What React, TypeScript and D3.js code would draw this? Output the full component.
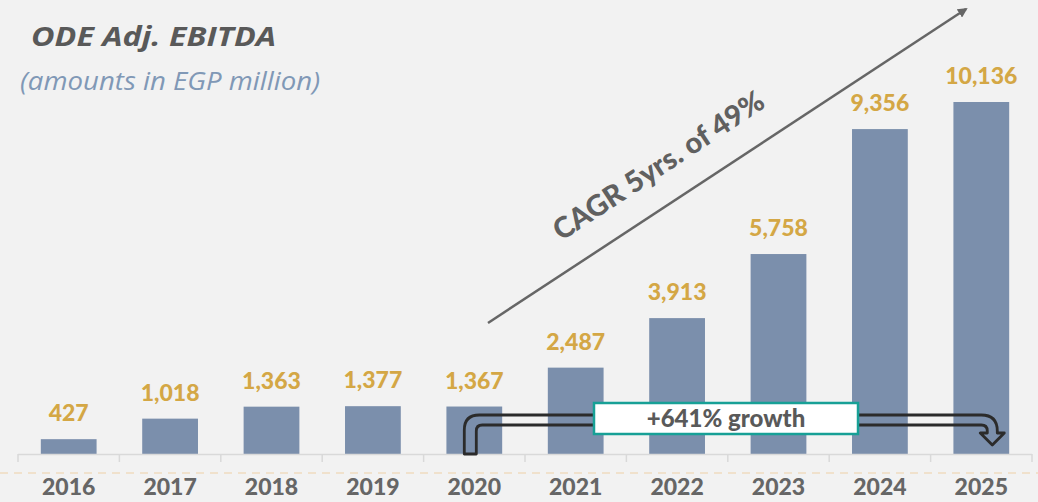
import React from 'react'
import { scaleBand, scaleLinear, format } from 'd3'

// chart values
const years = ['2016', '2017', '2018', '2019', '2020', '2021', '2022', '2023', '2024', '2025']
const ebitda = [427, 1018, 1363, 1377, 1367, 2487, 3913, 5758, 9356, 10136]

const W = 1038
const H = 502
const font = "Lato, 'Open Sans', sans-serif"
const titleFont = "'Open Sans', Lato, sans-serif"

const App = () => {
  const x = scaleBand<string>().domain(years).range([18, 1032]).paddingInner(0.45).paddingOuter(0.225)
  const y = scaleLinear().domain([0, 10136]).range([454, 102])
  const fmt = format(',')
  const bw = x.bandwidth()
  const step = x.step()
  const base = y(0)

  // bent "growth" arrow, anchored on the 2020 and 2025 bars
  const lx = (x('2020') as number) + bw / 2 - 4
  const rx = (x('2025') as number) + bw / 2 + 11
  const top = 415
  const th = 10
  const lo = lx - 6, li = lx + 6
  const ri = rx - 5, ro = rx + 5
  const headY = 433
  const bent = [
    `M${lo},${base}`,
    `L${lo},${top + 15}`,
    `Q${lo},${top} ${lo + 15},${top}`,
    `L${ro - 16},${top}`,
    `Q${ro},${top} ${ro},${top + 16}`,
    `L${ro},${headY}`,
    `L${rx + 12},${headY}`,
    `L${rx},${headY + 12}`,
    `L${rx - 12},${headY}`,
    `L${ri},${headY}`,
    `L${ri},${top + th + 6}`,
    `Q${ri},${top + th} ${ri - 6},${top + th}`,
    `L${li + 6},${top + th}`,
    `Q${li},${top + th} ${li},${top + th + 6}`,
    `L${li},${base}`,
    'Z',
  ].join(' ')

  // CAGR trend line
  const a0 = { x: 488, y: 323 }
  const a1 = { x: 966, y: 9 }
  const ang = (Math.atan2(a1.y - a0.y, a1.x - a0.x) * 180) / Math.PI

  const boxL = 594, boxR = 858, boxT = 403, boxB = 434

  return (
    <svg width={W} height={H} style={{ position: 'absolute', left: 0, top: 0, background: '#f2f2f2' }}>
      <rect x={0} y={0} width={W} height={H} fill="#f2f2f2" />
      <defs>
        <marker id="ah" viewBox="0 0 10 10" refX="8" refY="5" markerWidth="10" markerHeight="10" orient="auto" markerUnits="userSpaceOnUse">
          <path d="M0,0 L10,5 L0,10 Z" fill="#666666" />
        </marker>
      </defs>

      {/* titles */}
      <text x={31} y={46} textLength={245} lengthAdjust="spacingAndGlyphs" fontFamily={titleFont} fontSize={26} fontWeight="bold" fontStyle="italic" fill="#595959">
        ODE Adj. EBITDA
      </text>
      <text x={20} y={90} textLength={300} lengthAdjust="spacingAndGlyphs" fontFamily={titleFont} fontSize={25} fontStyle="italic" fill="#8098b6">
        (amounts in EGP million)
      </text>

      {/* bars */}
      {years.map((yr, i) => (
        <rect key={yr} x={x(yr)} y={y(ebitda[i])} width={bw} height={base - y(ebitda[i])} fill="#7b8fac" />
      ))}

      {/* value labels */}
      {years.map((yr, i) => (
        <text
          key={'v' + yr}
          x={(x(yr) as number) + bw / 2}
          y={y(ebitda[i]) - 18}
          textAnchor="middle"
          fontFamily={font}
          fontSize={23}
          fontWeight="900"
          fill="#d4a745"
        >
          {fmt(ebitda[i])}
        </text>
      ))}

      {/* axis */}
      <line x1={18} x2={1032} y1={base + 0.5} y2={base + 0.5} stroke="#d9d9d9" strokeWidth={1.5} />
      {[...years, 'end'].map((yr, i) => {
        const tx = 18 + i * step
        return <line key={'t' + yr} x1={tx} x2={tx} y1={base} y2={base + 8} stroke="#d9d9d9" strokeWidth={1.5} />
      })}
      <line x1={0} x2={W} y1={473} y2={473} stroke="#f0dcc0" strokeWidth={1.5} strokeDasharray="8 6" />
      {years.map((yr) => (
        <text
          key={'l' + yr}
          x={(x(yr) as number) + bw / 2}
          y={495}
          textAnchor="middle"
          fontFamily={font}
          fontSize={23}
          fontWeight="900"
          fill="#666666"
        >
          {yr}
        </text>
      ))}

      {/* CAGR annotation */}
      <line x1={a0.x} y1={a0.y} x2={a1.x} y2={a1.y} stroke="#666666" strokeWidth={2.5} markerEnd="url(#ah)" />
      <text
        transform={`translate(664,174) rotate(${ang})`}
        textAnchor="middle"
        fontFamily={font}
        fontSize={29}
        fontWeight="900"
        fill="#606060"
      >
        CAGR 5yrs. of 49%
      </text>

      {/* growth annotation */}
      <path d={bent} fill="none" stroke="#2b2b2b" strokeWidth={2.8} strokeLinejoin="round" />
      <rect x={boxL} y={boxT} width={boxR - boxL} height={boxB - boxT} fill="#ffffff" stroke="#17a096" strokeWidth={2.5} />
      <text x={(boxL + boxR) / 2} y={427} textAnchor="middle" fontFamily={font} fontSize={24} fontWeight="900" fill="#595959">
        +641% growth
      </text>
    </svg>
  )
}

export default App
